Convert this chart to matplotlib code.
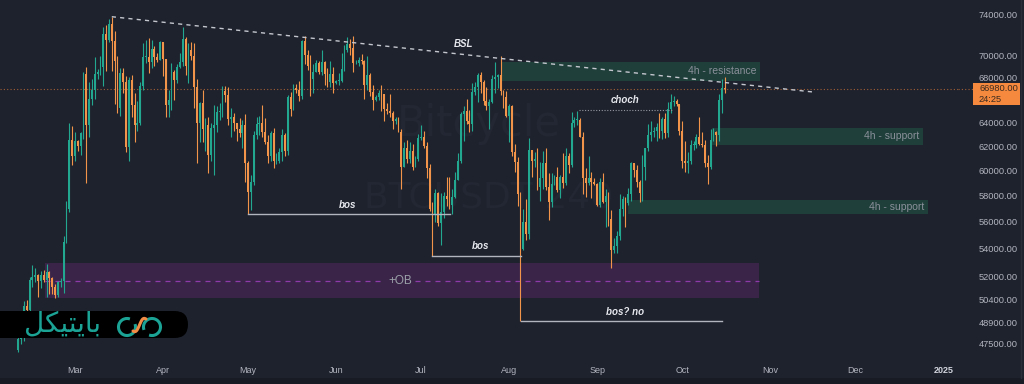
import numpy as np
import pandas as pd
import matplotlib
matplotlib.use("Agg")
import matplotlib.pyplot as plt
import matplotlib.dates as mdates
from matplotlib.patches import Rectangle, FancyBboxPatch, Arc

# BTCUSDT daily candles (first day 2024-02-10)
first_open = 47100
close = [
    # Feb
    47800, 48300, 50000, 49700, 51800, 52000, 52100, 51700, 52100, 51800,
    52300, 51900, 51300, 50700, 51600, 51700, 54500, 57000, 62500, 61200,
    # Mar
    62400, 62000, 63100, 68300, 63800, 66100, 66900, 68300, 68500, 69000,
    72100, 71500, 73100, 71400, 69500, 65300, 68400, 67600, 61900, 67800,
    65500, 63800, 64000, 67200, 69900, 69900, 69400, 70700, 69900, 69600, 71300,
    # Apr
    69700, 65500, 66000, 68500, 67800, 69000, 69400, 71600, 69100, 70600,
    70000, 67100, 64000, 65700, 63400, 63800, 61300, 63500, 63800, 64900,
    64900, 66800, 66400, 64300, 64500, 64000, 63400, 63100, 63800, 60600,
    # May
    58300, 59100, 62900, 63900, 64000, 63200, 62300, 61200, 63100, 60800,
    60800, 61500, 62900, 61600, 66200, 65200, 67000, 66900, 66300, 71400,
    70100, 69100, 67900, 68500, 69300, 68500, 69400, 68300, 67600, 68300, 67500,
    # Jun
    67700, 67700, 68800, 70600, 71100, 70800, 69300, 69300, 69600, 69500,
    67300, 68200, 66700, 66000, 66200, 66600, 66500, 65200, 65000, 64800,
    64100, 64300, 63200, 60300, 61800, 60900, 61600, 60300, 60900, 62700,
    # Jul
    62800, 62000, 60200, 57000, 56600, 58200, 55900, 56700, 58000, 57700,
    57300, 57900, 59200, 60800, 64700, 65000, 64100, 63900, 66700, 67100,
    68200, 67600, 65900, 65400, 65800, 67900, 68000, 68200, 66800, 66200, 64600,
    # Aug
    65400, 61500, 60700, 58100, 54000, 56000, 55100, 61700, 60800, 60900,
    58700, 59400, 60600, 58700, 57500, 58900, 59500, 58400, 59500, 59000,
    61200, 60400, 64000, 64200, 64200, 62800, 59400, 59000, 59400, 59100, 58900,
    # Sep
    57300, 59100, 57500, 58000, 56200, 53900, 54200, 54900, 57000, 57700,
    57400, 58100, 60600, 60000, 59100, 58200, 60300, 61800, 62900, 63200,
    63300, 63600, 63300, 64300, 63100, 65200, 65800, 65900, 65600, 63300,
    # Oct
    60800, 60600, 60800, 62100, 62100, 62800, 62200, 62100, 60600, 60300,
    62500, 63200, 62900, 66000, 67000, 66980,
]
high = [
    48200, 48600, 50300, 50400, 52000, 52800, 52600, 52200, 52400, 52500,
    52900, 52400, 52000, 51500, 51700, 51900, 54900, 57600, 64000, 63700,
    63200, 62500, 63200, 68500, 69000, 67600, 67900, 69900, 68800, 70000,
    72800, 73000, 73600, 73800, 72400, 70000, 68900, 68900, 68100, 68000,
    68200, 66600, 65900, 67600, 71200, 71500, 71700, 71500, 70900, 70300, 71400,
    71300, 69700, 66900, 69300, 68700, 69200, 70300, 72800, 71800, 71200,
    71300, 71200, 67900, 65800, 66900, 64400, 64500, 64000, 65500, 65400,
    65700, 67200, 67200, 67100, 65300, 64800, 63900, 64400, 64200, 64700,
    60800, 59600, 63300, 64500, 64600, 65500, 64400, 62900, 63300, 63500,
    61400, 61800, 63400, 63100, 66400, 66700, 67400, 67400, 67700, 71500,
    71900, 70600, 70100, 69200, 69600, 69500, 70600, 69500, 68900, 69500, 69000,
    67800, 68400, 70300, 71000, 71800, 71600, 71900, 69600, 69900, 70200,
    69600, 70000, 68400, 67300, 66400, 66900, 67300, 66500, 65700, 66500,
    65000, 64500, 64500, 63400, 62300, 62500, 62300, 62200, 61200, 63000,
    63800, 63300, 62300, 60500, 57500, 58500, 58300, 58200, 58300, 59500,
    59500, 58500, 59900, 61400, 64900, 65400, 66100, 65100, 67500, 67600,
    68400, 68500, 67800, 67100, 66100, 68200, 69400, 68300, 70000, 66900, 66800,
    65600, 65500, 62200, 61100, 58300, 57000, 57700, 62700, 61700, 61500,
    61800, 60700, 61600, 61800, 59800, 59800, 59600, 60300, 59600, 61400,
    61800, 61400, 64900, 64500, 65000, 64400, 63200, 60200, 61200, 59900, 59400,
    59000, 59400, 59800, 58500, 58300, 56900, 54800, 55300, 58100, 58000,
    57900, 58600, 60700, 60600, 60400, 59200, 61300, 61800, 63900, 64100,
    63600, 64000, 64800, 64500, 64800, 65800, 66500, 66300, 66100, 65600,
    64100, 62400, 61500, 62500, 62400, 63000, 64500, 63200, 62500, 61300,
    63400, 63500, 63300, 66500, 67900, 68000,
]
low = [
    47000, 47500, 47700, 48300, 49300, 51300, 51600, 50600, 51200, 51600,
    50600, 50800, 50800, 50500, 50600, 51300, 50900, 54400, 56700, 60400,
    60800, 61600, 61300, 62600, 59000, 62800, 65500, 66100, 67900, 68200,
    67200, 68600, 71300, 68600, 65600, 64800, 64600, 66600, 61500, 60800,
    64500, 62300, 63300, 63800, 66900, 69300, 68400, 68900, 69100, 69400, 69600,
    68100, 64500, 64500, 65100, 66000, 67500, 68900, 69100, 68200, 67500,
    69600, 65300, 60600, 62300, 62300, 61600, 59800, 60800, 59600, 63200,
    64200, 64500, 65800, 63800, 62800, 63300, 62400, 62800, 61800, 59100,
    56600, 56900, 58800, 62600, 62900, 62800, 62200, 60600, 60800, 60200,
    60500, 60600, 60800, 61200, 61300, 64600, 65100, 66600, 65900, 66100,
    69200, 68700, 66300, 66600, 68500, 68300, 68200, 67300, 67100, 67100, 66600,
    67400, 67300, 67600, 68600, 70400, 70100, 68500, 69200, 69100, 69200,
    66100, 66900, 66300, 65100, 65900, 66000, 65000, 64100, 64700, 64500,
    63400, 63900, 63200, 58500, 60300, 60600, 60600, 60000, 60300, 60800,
    62500, 61800, 59400, 56800, 53500, 56000, 55700, 54300, 56300, 57200,
    57000, 56600, 57800, 59200, 60600, 62400, 63900, 63200, 63300, 66400,
    65800, 66600, 65500, 65100, 63400, 65700, 66600, 67000, 66400, 65300, 64500,
    62300, 61200, 59900, 57200, 49000, 53900, 54600, 54700, 59500, 60300,
    58400, 57600, 58500, 58400, 56100, 57100, 58800, 58300, 57800, 58600,
    58800, 59800, 60300, 63600, 63800, 62800, 58100, 57900, 58800, 57800, 58800,
    57200, 57100, 57400, 55600, 55700, 52600, 53700, 53700, 54600, 56400,
    55600, 57300, 57600, 59500, 58700, 57500, 57600, 59200, 61600, 62400,
    62800, 62400, 62700, 62600, 62700, 62800, 64800, 65400, 65400, 62900,
    60200, 59900, 59800, 60500, 61700, 61800, 62100, 61900, 60300, 58900,
    60100, 62400, 62000, 62400, 64800, 66600,
]

last_price = 66980
countdown = "24:25"

# drawn levels / zones (start date, end date, price)
bsl_line = [("2024-03-14", 73800), ("2024-11-17", 66660)]
bos_lines = [("2024-05-01", "2024-07-11 05:00", 56600, "bos", "2024-06-05", 57300),
             ("2024-07-05", "2024-08-05 05:00", 53500, "bos", "2024-07-22", 54200),
             ("2024-08-05 05:00", "2024-10-15", 49000, "bos? no", "2024-09-11", 49600)]
choch_line = ("2024-08-25 16:00", "2024-09-27 10:00", 65070)
zones = [("2024-07-29 12:00", "2024-10-28 12:00", 67650, 69400, "4h - resistance", 68580),
         ("2024-10-11 12:00", "2024-12-24 20:00", 62080, 63520, "4h - support", 62830),
         ("2024-09-11 22:00", "2024-12-26 14:00", 56580, 57660, "4h - support", 57120)]
ob_zone = ("2024-02-19 10:00", "2024-10-28 02:00", 50530, 52970, 51700)

price_ticks = [74000, 70000, 68000, 64000, 62000, 60000, 58000, 56000,
               54000, 52000, 50400, 48900, 47500]
month_ticks = ["2024-03-01", "2024-04-01", "2024-05-01", "2024-06-01", "2024-07-01",
               "2024-08-01", "2024-09-01", "2024-10-01", "2024-11-01", "2024-12-01",
               "2025-01-01"]
month_labels = ["Mar", "Apr", "May", "Jun", "Jul", "Aug", "Sep", "Oct", "Nov", "Dec", "2025"]

BG = "#1e222d"
UP = "#22a891"
DOWN = "#f2944a"
TXT = "#b2b5be"
OB_COL = "#3a2549"


def d(s):
    return mdates.date2num(pd.Timestamp(s))


plt.rcParams["font.family"] = ["Liberation Sans", "DejaVu Sans"]

fig = plt.figure(figsize=(10.24, 3.84), dpi=100, facecolor=BG)
ax = fig.add_axes([0, 24 / 384, 958 / 1024, 360 / 384], facecolor=BG)

close = np.array(close, float)
high = np.array(high, float)
low = np.array(low, float)
opens = np.r_[first_open, close[:-1]]
dates = pd.date_range("2024-02-10", periods=len(close), freq="D")
x = mdates.date2num(dates)
cols = np.where(close >= opens, UP, DOWN)

ax.set_yscale("log")

# watermark
ax.text(0.50, 0.655, "Bitcycle", transform=ax.transAxes, fontsize=30, color="#232733",
        ha="center", va="center", family="DejaVu Sans", zorder=0)
ax.text(0.51, 0.45, "BTCUSDT 240", transform=ax.transAxes, fontsize=26, color="#232733",
        ha="center", va="center", family="DejaVu Sans", zorder=0)

# zones
for x0, x1, p0, p1, lab, py in zones:
    ax.add_patch(Rectangle((d(x0), p0), d(x1) - d(x0), p1 - p0, color="#1f3f3b", lw=0, zorder=1))
    ax.text(d(x1) - 1.4, py, lab, ha="right", va="center", fontsize=7.5, color="#8a9099", zorder=5)
x0, x1, p0, p1, pm = ob_zone
ax.add_patch(Rectangle((d(x0), p0), d(x1) - d(x0), p1 - p0, color=OB_COL, lw=0, zorder=1))
ax.plot([d(x0), d(x1)], [pm, pm], ls=(0, (4, 4)), color="#8e3aa8", lw=0.9, zorder=2)
ax.text(d("2024-06-23 14:00"), pm, "+OB", ha="center", va="center", fontsize=8.5,
        color="#9ba0a8", zorder=5,
        bbox=dict(facecolor=OB_COL, edgecolor="none", pad=2))

# candles
ax.vlines(x, low, high, colors=cols, lw=0.8, zorder=3)
ax.bar(x, np.maximum(np.abs(close - opens), 60), bottom=np.minimum(opens, close),
       width=0.62, color=cols, lw=0, zorder=3)

# current price line
ax.axhline(last_price, color="#f7873a", lw=0.8, ls=(0, (1, 2)), alpha=0.6, zorder=2)

# BSL line
(a0, b0), (a1, b1) = bsl_line
ax.plot([d(a0), d(a1)], [b0, b1], color="#c4c7ce", lw=1.0, ls=(0, (3, 3)), zorder=4)
ax.text(d("2024-07-16"), 71100, "BSL", fontsize=7, style="italic", weight="bold",
        color="#e6e8ee", ha="center", va="center", zorder=5)

# bos lines
for s0, s1, p, lab, tx, ty in bos_lines:
    ax.plot([d(s0), d(s1)], [p, p], color="#b2b5be", lw=1.0, zorder=4)
    ax.text(d(tx), ty, lab, fontsize=7, style="italic", weight="bold",
            color="#e6e8ee", ha="center", va="center", zorder=5)

# choch
c0, c1, cp = choch_line
ax.plot([d(c0), d(c1)], [cp, cp], color="#9598a1", lw=0.8, ls=(0, (1, 1.5)), zorder=4)
ax.text(d("2024-09-11"), 65950, "choch", fontsize=7, style="italic", weight="bold",
        color="#e6e8ee", ha="center", va="center", zorder=5)

ax.set_ylim(46480, 75480)
ax.set_xlim(d("2024-03-01") - 26.4, d("2024-03-01") + 311.2)

ax.yaxis.tick_right()
ax.yaxis.set_minor_locator(matplotlib.ticker.NullLocator())
ax.yaxis.set_minor_formatter(matplotlib.ticker.NullFormatter())
ax.set_yticks(price_ticks)
ax.set_yticklabels([f"{t:.2f}" for t in price_ticks])
ax.tick_params(axis="y", length=0, pad=15, labelsize=6.7, labelcolor=TXT)
ax.set_xticks([d(m) for m in month_ticks])
ax.set_xticklabels(month_labels)
ax.tick_params(axis="x", length=0, pad=4, labelsize=6.5, labelcolor=TXT)
ax.get_xticklabels()[-1].set_fontweight("bold")
ax.get_xticklabels()[-1].set_color("#d1d4dc")
for s in ax.spines.values():
    s.set_visible(False)

# overlay in pixel coordinates
ov = fig.add_axes([0, 0, 1, 1])
ov.set_xlim(0, 1024)
ov.set_ylim(384, 0)
ov.axis("off")
ov.patch.set_alpha(0)

fig.canvas.draw()
ly = 384 - ax.transData.transform((0, last_price))[1]
ov.plot([958, 973], [ly, ly], color="#f7873a", lw=0.8, ls=(0, (1, 2)), alpha=0.6)
ov.add_patch(Rectangle((973, ly - 6), 47, 22, color="#f5893d", lw=0))
ov.text(979, ly, f"{last_price:.2f}", fontsize=6.7, color="#3b2b20", va="center", ha="left")
ov.text(979, ly + 11, countdown, fontsize=6.7, color="#3b2b20", va="center", ha="left")

ov.add_patch(Rectangle((0, 378), 1024, 6, color="#181b24", lw=0))
ov.plot([1021, 1021], [0, 378], color="#2a2e39", lw=1)

# logo bar
ov.add_patch(FancyBboxPatch((-20, 311), 208, 27, boxstyle="round,pad=0,rounding_size=13.5",
                            color="black", lw=0, zorder=10))
ov.text(62, 324, "\uFEDE\uFB91\uFBFF\uFE98\uFBFE\uFE8E\uFE91", family="DejaVu Sans",
        fontsize=20, color="#1ba396", ha="center", va="center", zorder=11)
ov.add_patch(Arc((127, 327), 17, 17, theta1=-20, theta2=290, color="#1ba396", lw=2.2, zorder=11))
ov.add_patch(Arc((152, 327), 17, 17, theta1=160, theta2=470, color="#1ba396", lw=2.2, zorder=11))
t = np.linspace(0, 1, 30)
ov.plot(133 + 13 * t, 331 - 12 * t + 3 * np.sin(2 * np.pi * t), color="#f08c45", lw=2.2,
        solid_capstyle="round", zorder=12)

fig.savefig("out.png", dpi=100, facecolor=BG)
